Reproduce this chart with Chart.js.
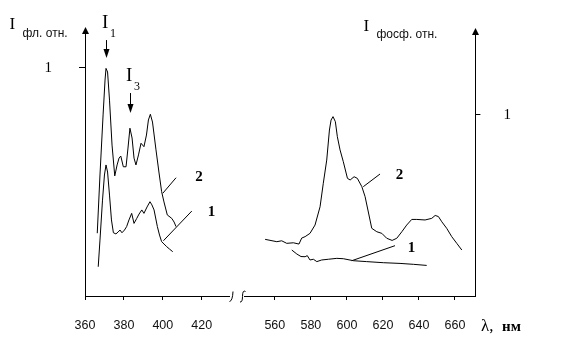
<!DOCTYPE html>
<html><head><meta charset="utf-8">
<script src="https://cdn.jsdelivr.net/npm/chart.js@4/dist/chart.umd.min.js"></script>
<style>html,body{margin:0;padding:0;background:#fff}canvas{display:block}</style>
</head><body>
<canvas id="c" width="584" height="352"></canvas>
<script>
// ---- data (wavelength, nm / relative intensity) ----
const fluorWl2 = [366.3,367.7,369.3,370.3,370.8,371.6,372.6,373.9,375.3,376.5,377.5,378.4,379.7,381.1,382.1,383.1,384.2,385.2,386.2,387.5,388.8,390.3,391.6,392.6,393.6,394.7,396.5,398.0,399.4,400.6,402.3,404.6,405.8,406.8];
const fluorI2  = [0.275,0.530,0.793,0.946,0.997,0.981,0.858,0.661,0.526,0.574,0.604,0.613,0.566,0.566,0.648,0.735,0.692,0.604,0.574,0.618,0.669,0.654,0.705,0.771,0.796,0.762,0.640,0.543,0.457,0.412,0.355,0.340,0.324,0.304];
const fluorWl1 = [366.8,367.7,369.0,370.0,370.8,371.6,372.6,373.6,374.6,375.9,377.0,378.0,379.0,380.3,381.4,382.6,384.0,385.2,386.6,387.8,389.2,390.3,391.9,393.4,394.4,395.5,397.2,398.3,399.4,400.6,402.0,403.4,405.1];
const fluorI1  = [0.128,0.245,0.420,0.530,0.574,0.543,0.442,0.333,0.277,0.272,0.280,0.289,0.277,0.289,0.304,0.333,0.362,0.318,0.340,0.359,0.377,0.362,0.390,0.413,0.399,0.377,0.304,0.267,0.238,0.228,0.216,0.206,0.194];
const phosWl2  = [554.6,561.1,563.8,566.6,570.3,573.4,574.9,576.8,579.5,582.3,585.1,586.9,588.8,590.3,591.2,592.3,593.6,594.7,596.2,598.0,600.3,601.8,604.0,605.8,608.3,610.1,611.9,613.8,616.6,619.4,622.1,625.1,627.7,630.5,633.2,636.0,638.8,643.4,647.1,649.0,650.8,652.7,655.4,658.2,661.0,663.8];
const phosI2   = [0.313,0.300,0.305,0.291,0.294,0.287,0.320,0.328,0.346,0.392,0.493,0.623,0.751,0.917,0.972,0.991,0.963,0.880,0.807,0.742,0.650,0.641,0.659,0.650,0.604,0.549,0.464,0.374,0.355,0.346,0.319,0.307,0.319,0.355,0.392,0.423,0.423,0.420,0.429,0.445,0.439,0.410,0.374,0.328,0.291,0.254];
const phosWl1  = [569.4,572.2,574.5,576.8,578.0,579.5,581.4,583.3,586.0,589.7,594.4,598.0,603.6,611.0,620.2,629.5,636.9,644.3];
const phosI1   = [0.254,0.232,0.218,0.217,0.223,0.199,0.203,0.190,0.199,0.203,0.208,0.206,0.195,0.190,0.184,0.180,0.175,0.169];
const xTickWl  = [360,380,400,420,560,580,600,620,640,660];
const yTickFluor = [1];
const yTickPhos  = [1];

// broken wavelength axis: right segment (from 560 nm) shifted and slightly compressed
const BREAK_AT = 457.6, RIGHT_RATIO = 0.926;
function toAxis(w){ return w < 500 ? w : BREAK_AT + (w - 560) * RIGHT_RATIO; }
const pts = (wl, v) => wl.map((w, i) => ({x: toAxis(w), y: v[i]}));

// annotations (data coordinates)
const fluorLeaders = [[400.0,0.450,406.8,0.518],[400.3,0.242,414.9,0.372]];
const fluorLabels  = [["2",418.6,0.526],["1",425.0,0.372]];
const phosLeaders  = [[609.1,0.604,618.4,0.674],[602.7,0.195,626.7,0.278]];
const phosLabels   = [["2",629.2,0.674],["1",635.9,0.273]];
const peakArrows   = [{w:370.8, from:1.121, to:1.042, sub:"1"},{w:383.1, from:0.889, to:0.802, sub:"3"}];

const lineDs = (data, axis) => ({data, yAxisID: axis, borderColor:'#000', borderWidth:1, pointRadius:0, tension:0, fill:false});
const noPad = s => { s.paddingTop = 0; s.paddingBottom = 0; s.paddingLeft = 0; s.paddingRight = 0; };

const deco = {
  id:'deco',
  afterDraw(chart){
    const {ctx, chartArea:a, scales:{x, y, y2}} = chart;
    const X = w => x.getPixelForValue(toAxis(w));
    ctx.save();
    ctx.fillStyle = '#000'; ctx.strokeStyle = '#000'; ctx.lineWidth = 1;
    // axis arrows
    const up = (px, tip) => { ctx.beginPath(); ctx.moveTo(px, tip); ctx.lineTo(px-3.5, tip+7); ctx.lineTo(px+3.5, tip+7); ctx.closePath(); ctx.fill(); };
    up(Math.round(a.left)+0.5, a.top-3);
    up(Math.round(a.right)+0.5, a.top-2);
    // axis break
    ctx.fillStyle = '#fff';
    ctx.fillRect(230, a.bottom-3, 14, 6);
    ctx.fillStyle = '#000';
    ctx.beginPath(); ctx.moveTo(233,291.5); ctx.quadraticCurveTo(232.5,301,229.5,301.5); ctx.stroke();
    ctx.beginPath(); ctx.moveTo(245.5,291.5); ctx.quadraticCurveTo(242.5,289.5,242.5,296.5); ctx.quadraticCurveTo(242.5,302.5,240,302); ctx.stroke();
    // axis titles
    ctx.textBaseline = 'alphabetic'; ctx.textAlign = 'left';
    ctx.font = '17px "Liberation Serif"'; ctx.fillText('I', 9.5, 28.5);
    ctx.fillText('I', 363.5, 30.5);
    ctx.font = '12px "Liberation Sans"'; ctx.fillStyle = '#111';
    ctx.fillText('фл. отн.', 22.5, 37);
    ctx.fillText('фосф. отн.', 376.5, 38);
    ctx.fillStyle = '#000';
    ctx.font = '17px "Liberation Serif"'; ctx.fillText('λ,', 481, 331);
    ctx.font = 'bold 15px "Liberation Serif"'; ctx.fillText('нм', 502, 331);
    // peak arrows I1, I3
    peakArrows.forEach(p => {
      const px = Math.round(X(p.w)) + 0.5, t = y.getPixelForValue(p.from), h = y.getPixelForValue(p.to);
      ctx.beginPath(); ctx.moveTo(px, t); ctx.lineTo(px, h-8); ctx.stroke();
      ctx.beginPath(); ctx.moveTo(px, h); ctx.lineTo(px-3, h-9); ctx.lineTo(px+3, h-9); ctx.closePath(); ctx.fill();
      ctx.font = '19px "Liberation Serif"'; ctx.fillText('I', px-4.5, t-12);
      ctx.font = '12px "Liberation Serif"'; ctx.fillText(p.sub, px+3.5, t-3);
    });
    // curve labels and leaders
    const drawGroup = (leaders, labels, ys) => {
      leaders.forEach(l => { ctx.beginPath(); ctx.moveTo(X(l[0]), ys.getPixelForValue(l[1])); ctx.lineTo(X(l[2]), ys.getPixelForValue(l[3])); ctx.stroke(); });
      ctx.font = 'bold 15px "Liberation Serif"'; ctx.textAlign = 'center';
      labels.forEach(l => ctx.fillText(l[0], X(l[1]), ys.getPixelForValue(l[2]) + 5));
      ctx.textAlign = 'left';
    };
    drawGroup(fluorLeaders, fluorLabels, y);
    drawGroup(phosLeaders, phosLabels, y2);
    ctx.restore();
  }
};

new Chart(document.getElementById('c'), {
  type: 'line',
  data: { datasets: [
    lineDs(pts(fluorWl2, fluorI2), 'y'),
    lineDs(pts(fluorWl1, fluorI1), 'y'),
    lineDs(pts(phosWl2, phosI2), 'y2'),
    lineDs(pts(phosWl1, phosI1), 'y2')
  ]},
  options: {
    responsive: false, animation: false,
    layout: { padding: { top: 30, left: 0, right: 0, bottom: 0 } },
    plugins: { legend: {display:false}, tooltip: {enabled:false} },
    scales: {
      x: {
        type: 'linear', position: 'bottom', min: 360, max: 560.7,
        afterFit: s => { s.height = 56; noPad(s); },
        afterBuildTicks: s => { s.ticks = xTickWl.map(w => ({value: toAxis(w)})); },
        grid: { drawOnChartArea: false, drawTicks: true, tickLength: 4, color: '#000' },
        border: { display: true, color: '#000', width: 1 },
        ticks: { autoSkip: false, maxRotation: 0, padding: 18, color: '#111',
                 font: { family: '"Liberation Sans"', size: 12.5 },
                 callback: (v, i) => String(xTickWl[i]) }
      },
      y: {
        type: 'linear', position: 'left', min: 0, max: 1.1651,
        afterFit: s => { s.width = 85; noPad(s); },
        afterBuildTicks: s => { s.ticks = yTickFluor.map(v => ({value: v})); },
        grid: { drawOnChartArea: false, drawTicks: true, tickLength: 6, color: '#000' },
        border: { display: true, color: '#000', width: 1 },
        ticks: { padding: 27, color: '#000', font: { family: '"Liberation Serif"', size: 15 }, callback: v => String(v) }
      },
      y2: {
        type: 'linear', position: 'right', min: 0, max: 1.4696,
        afterFit: s => { s.width = 108.6; noPad(s); },
        afterBuildTicks: s => { s.ticks = yTickPhos.map(v => ({value: v})); },
        grid: { drawOnChartArea: false, drawTicks: true, tickLength: 5, color: '#000' },
        border: { display: true, color: '#000', width: 1 },
        ticks: { padding: 23, color: '#000', font: { family: '"Liberation Serif"', size: 15 }, callback: v => String(v) }
      }
    }
  },
  plugins: [deco]
});
</script>
</body></html>
